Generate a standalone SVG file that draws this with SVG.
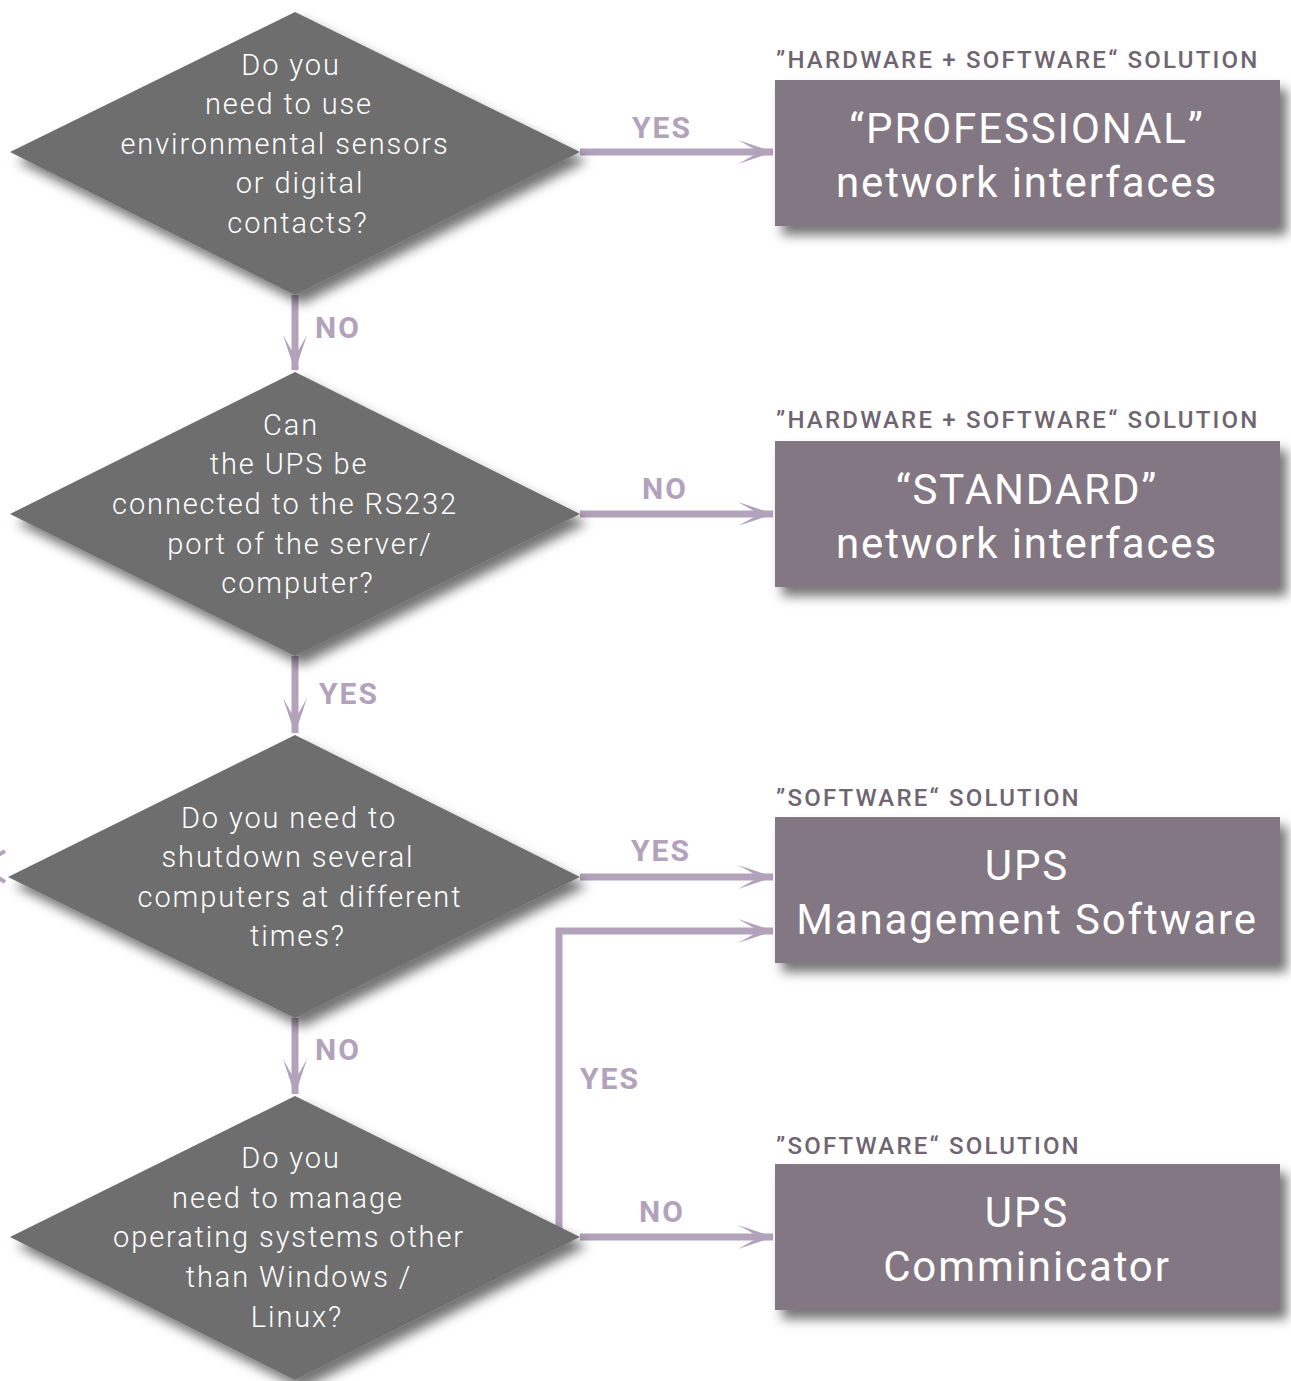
<svg xmlns="http://www.w3.org/2000/svg" width="1291" height="1381" viewBox="0 0 1291 1381">
<defs>
<filter id="sh" x="-20%" y="-20%" width="150%" height="150%">
<feDropShadow dx="7" dy="9" stdDeviation="6" flood-color="#000" flood-opacity="0.55"/>
</filter>
<marker id="ah" viewBox="0 0 36 26" refX="35" refY="13" markerWidth="36" markerHeight="26" markerUnits="userSpaceOnUse" orient="auto">
<path d="M36,13 L0,1 L16,10 L16,16 L0,25 Z" fill="#b3a2bb"/>
</marker>
</defs>
<style>
.dia{fill:#6e6e6e;filter:url(#sh)}
.box{fill:#827783;filter:url(#sh)}
.dt{font-family:Roboto,"Open Sans",sans-serif;font-weight:300;font-size:29px;fill:#fff;text-anchor:middle;letter-spacing:1.9px}
.bt{font-family:Roboto,"Open Sans",sans-serif;font-size:42px;fill:#fff;text-anchor:middle;letter-spacing:1.9px}
.cap{font-family:Roboto,"Open Sans",sans-serif;font-weight:500;font-size:24px;fill:#6f6572;letter-spacing:2.2px}
.lbl{font-family:Roboto,"Open Sans",sans-serif;font-weight:700;font-size:30px;fill:#b3a2bb;text-anchor:middle;letter-spacing:2px}
.cn{fill:none;stroke:#b3a2bb;stroke-width:7}
</style>
<g id="connectors">
<path class="cn" d="M580,152 H773" marker-end="url(#ah)"/>
<path class="cn" d="M295,295 V370" marker-end="url(#ah)"/>
<path class="cn" d="M580,514 H773" marker-end="url(#ah)"/>
<path class="cn" d="M295,656 V733" marker-end="url(#ah)"/>
<path class="cn" d="M580,877 H773" marker-end="url(#ah)"/>
<path class="cn" d="M295,1018 V1094" marker-end="url(#ah)"/>
<path class="cn" d="M580,1237 H773" marker-end="url(#ah)"/>
<path class="cn" d="M559,1237 V931 H773" marker-end="url(#ah)"/>
<path d="M5,851 L-20,866 L5,882" fill="none" stroke="#b3a2bb" stroke-width="4"/>
<text class="lbl" x="662" y="138">YES</text>
<text class="lbl" x="338" y="338">NO</text>
<text class="lbl" x="665" y="499">NO</text>
<text class="lbl" x="349" y="704">YES</text>
<text class="lbl" x="661" y="861">YES</text>
<text class="lbl" x="338" y="1060">NO</text>
<text class="lbl" x="610" y="1089">YES</text>
<text class="lbl" x="662" y="1222">NO</text>
</g>
<g id="q1">
<polygon class="dia" points="295,12 580,152 295,295 10,152"/>
<text class="dt" x="291" y="75">Do you</text>
<text class="dt" x="289" y="114">need to use</text>
<text class="dt" x="285" y="154">environmental sensors</text>
<text class="dt" x="300" y="193">or digital</text>
<text class="dt" x="298" y="233">contacts?</text>
</g>
<g id="q2">
<polygon class="dia" points="295,372 580,514 295,656 10,514"/>
<text class="dt" x="291" y="435">Can</text>
<text class="dt" x="289" y="474">the UPS be</text>
<text class="dt" x="285" y="514">connected to the RS232</text>
<text class="dt" x="300" y="554">port of the server/</text>
<text class="dt" x="298" y="593">computer?</text>
</g>
<g id="q3">
<polygon class="dia" points="295,735 580,877 295,1018 8,877"/>
<text class="dt" x="289" y="828">Do you need to</text>
<text class="dt" x="288" y="867">shutdown several</text>
<text class="dt" x="300" y="907">computers at different</text>
<text class="dt" x="298" y="946">times?</text>
</g>
<g id="q4">
<polygon class="dia" points="295,1096 580,1237 295,1380 10,1237"/>
<text class="dt" x="291" y="1168">Do you</text>
<text class="dt" x="288" y="1208">need to manage</text>
<text class="dt" x="289" y="1247">operating systems other</text>
<text class="dt" x="299" y="1287">than Windows /</text>
<text class="dt" x="297" y="1327">Linux?</text>
</g>
<g id="r1">
<text class="cap" x="776" y="68">”HARDWARE + SOFTWARE“ SOLUTION</text>
<rect class="box" x="775" y="80" width="505" height="146"/>
<text class="bt" x="1027" y="143">“PROFESSIONAL”</text>
<text class="bt" x="1027" y="197">network interfaces</text>
</g>
<g id="r2">
<text class="cap" x="776" y="428">”HARDWARE + SOFTWARE“ SOLUTION</text>
<rect class="box" x="775" y="441" width="505" height="146"/>
<text class="bt" x="1027" y="504">“STANDARD”</text>
<text class="bt" x="1027" y="558">network interfaces</text>
</g>
<g id="r3">
<text class="cap" x="776" y="806">”SOFTWARE“ SOLUTION</text>
<rect class="box" x="775" y="817" width="505" height="146"/>
<text class="bt" x="1027" y="880">UPS</text>
<text class="bt" x="1027" y="934">Management Software</text>
</g>
<g id="r4">
<text class="cap" x="776" y="1154">”SOFTWARE“ SOLUTION</text>
<rect class="box" x="775" y="1164" width="505" height="146"/>
<text class="bt" x="1027" y="1227">UPS</text>
<text class="bt" x="1027" y="1281">Comminicator</text>
</g>
</svg>
